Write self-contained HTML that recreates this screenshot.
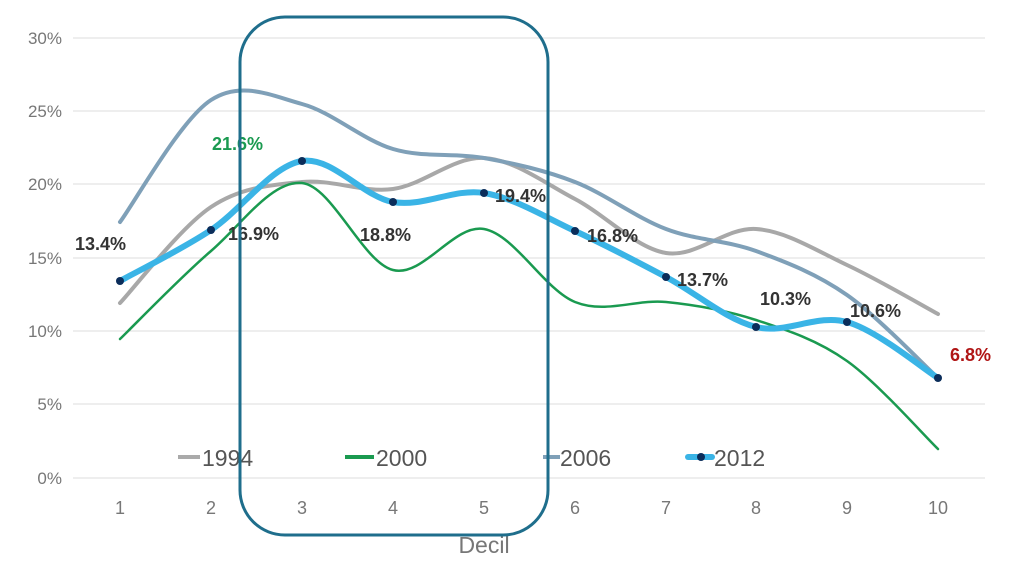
<!DOCTYPE html>
<html><head><meta charset="utf-8"><style>
html,body{margin:0;padding:0;background:#fff;}
svg{display:block;font-family:"Liberation Sans",sans-serif;}
</style></head><body>
<svg id="s" width="1024" height="566" viewBox="0 0 1024 566" xmlns="http://www.w3.org/2000/svg">
<g stroke="#dcdcdc" stroke-width="1">
<line x1="73" x2="985" y1="38" y2="38"/><line x1="73" x2="985" y1="111" y2="111"/>
<line x1="73" x2="985" y1="184" y2="184"/><line x1="73" x2="985" y1="258" y2="258"/>
<line x1="73" x2="985" y1="331" y2="331"/><line x1="73" x2="985" y1="404" y2="404"/>
<line x1="73" x2="985" y1="478" y2="478"/>
</g>
<g fill="#777" font-size="17" text-anchor="end">
<text x="62" y="44">30%</text><text x="62" y="117">25%</text><text x="62" y="190">20%</text>
<text x="62" y="264">15%</text><text x="62" y="337">10%</text><text x="62" y="410">5%</text><text x="62" y="484">0%</text>
</g>
<g fill="#777" font-size="18" text-anchor="middle">
<text x="120" y="514">1</text><text x="211" y="514">2</text><text x="302" y="514">3</text><text x="393" y="514">4</text><text x="484" y="514">5</text>
<text x="575" y="514">6</text><text x="666" y="514">7</text><text x="756" y="514">8</text><text x="847" y="514">9</text><text x="938" y="514">10</text>
<text x="484" y="553" font-size="23">Decil</text>
</g>
<g id="lines" fill="none" stroke-linecap="round"></g>
<g font-size="23" fill="#555">
<line x1="178" x2="200" y1="457" y2="457" stroke="#aaa" stroke-width="4"/><text x="202" y="466">1994</text>
<line x1="345" x2="374" y1="457" y2="457" stroke="#1a9a50" stroke-width="4"/><text x="376" y="466">2000</text>
<line x1="543" x2="560" y1="457" y2="457" stroke="#7fa0b8" stroke-width="4"/><text x="560" y="466">2006</text>
<line x1="688" x2="712" y1="457" y2="457" stroke="#3ab4e6" stroke-width="6" stroke-linecap="round"/><circle cx="701" cy="457" r="4" fill="#0b2d5a"/><text x="714" y="466">2012</text>
</g>
<g id="labels" font-size="18" font-weight="bold" fill="#333">
<text x="75" y="250">13.4%</text><text x="228" y="240">16.9%</text><text x="212" y="150" fill="#1a9a50">21.6%</text>
<text x="360" y="241">18.8%</text><text x="495" y="202">19.4%</text><text x="587" y="242">16.8%</text>
<text x="677" y="286">13.7%</text><text x="760" y="305">10.3%</text><text x="850" y="317">10.6%</text>
<text x="950" y="361" fill="#b01515">6.8%</text>
</g>
<rect x="240" y="17" width="308" height="518" rx="45" ry="45" fill="none" stroke="#1f6e8c" stroke-width="3"/>
</svg>
<script>
var X=[120,211,302,393,484,575,666,756,847,938];
function path(Y){var p=X.map(function(x,i){return [x,Y[i]]});var d="M"+p[0][0]+","+p[0][1];
for(var i=0;i<p.length-1;i++){var p0=p[i-1]||p[i],p1=p[i],p2=p[i+1],p3=p[i+2]||p2;
d+=" C"+(p1[0]+(p2[0]-p0[0])/6)+","+(p1[1]+(p2[1]-p0[1])/6)+" "+(p2[0]-(p3[0]-p1[0])/6)+","+(p2[1]-(p3[1]-p1[1])/6)+" "+p2[0]+","+p2[1];}return d;}
var S=[
{y:[303,207,182,189,158,199,253,229,265,314],c:"#a8a8a8",w:4},
{y:[222,100,104,149,158,182,229,251,295,378],c:"#7fa0b8",w:4},
{y:[339,251,183,270,229,302,302,320,361,449],c:"#1a9a50",w:2.5},
{y:[281,230,161,202,193,231,277,327,322,378],c:"#3ab4e6",w:6}];
var g=document.getElementById("lines"),ns="http://www.w3.org/2000/svg";
S.forEach(function(s){var e=document.createElementNS(ns,"path");e.setAttribute("d",path(s.y));e.setAttribute("stroke",s.c);e.setAttribute("stroke-width",s.w);g.appendChild(e);});
S[3].y.forEach(function(y,i){var c=document.createElementNS(ns,"circle");c.setAttribute("cx",X[i]);c.setAttribute("cy",y);c.setAttribute("r",4);c.setAttribute("fill","#0b2d5a");g.appendChild(c);});
</script>
</body></html>
